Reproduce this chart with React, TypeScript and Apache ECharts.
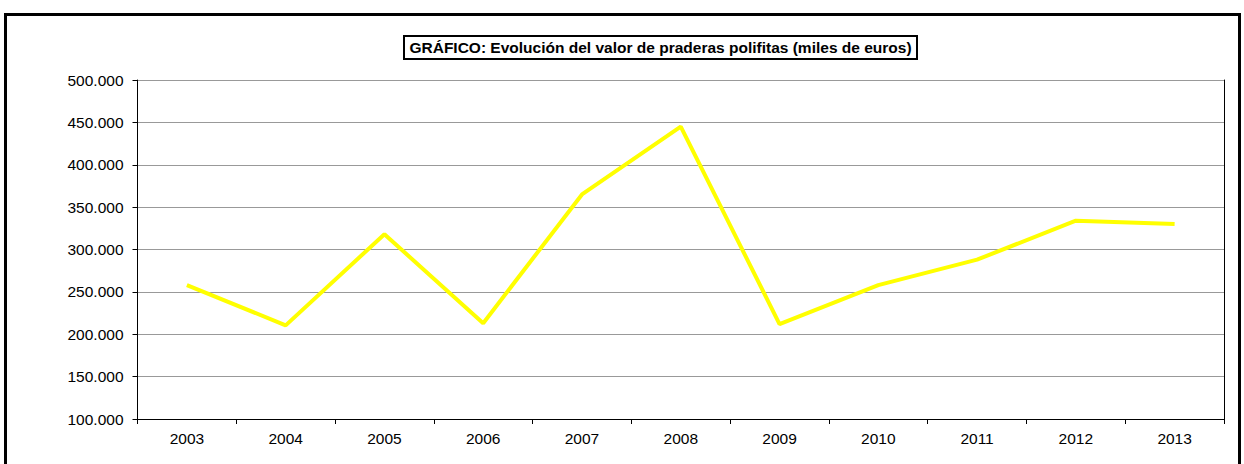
import React, { useEffect, useRef } from "react";
import * as echarts from "echarts";

const years = ["2003", "2004", "2005", "2006", "2007", "2008", "2009", "2010", "2011", "2012", "2013"];
const values = [258000, 210500, 318000, 213000, 365000, 445000, 212000, 258000, 288000, 334000, 330000];
const titleText = "GRÁFICO: Evolución del valor de praderas polifitas (miles de euros)";

const fmt = (v: number) => {
  const s = Math.round(v).toString();
  return s.replace(/\B(?=(\d{3})+(?!\d))/g, ".");
};

export default function App() {
  const ref = useRef<HTMLDivElement>(null);
  useEffect(() => {
    document.body.style.margin = "0";
    const chart = echarts.init(ref.current!, null, { renderer: "svg" });
    const font = "'Liberation Sans', Arial, sans-serif";
    chart.setOption({
      animation: false,
      backgroundColor: "#fff",
      textStyle: { fontFamily: font },
      grid: { left: 137.5, right: 20, top: 80, bottom: 45, containLabel: false },
      xAxis: {
        type: "category",
        data: years,
        boundaryGap: true,
        axisLine: { show: true, lineStyle: { color: "#000", width: 1 } },
        axisTick: { show: true, length: 5, inside: false, alignWithLabel: false, lineStyle: { color: "#000" } },
        axisLabel: { color: "#000", fontSize: 15.5, fontFamily: font, margin: 11 },
        splitLine: { show: false },
      },
      yAxis: [
        {
          type: "value",
          min: 100000,
          max: 500000,
          interval: 50000,
          axisLine: { show: true, lineStyle: { color: "#000", width: 1 } },
          axisTick: { show: true, length: 5, lineStyle: { color: "#000" } },
          axisLabel: { color: "#000", fontSize: 15.5, fontFamily: font, margin: 14, formatter: (v: number) => fmt(v) },
          splitLine: { show: true, lineStyle: { color: "#999", width: 1 } },
        },
        {
          type: "value",
          position: "right",
          min: 100000,
          max: 500000,
          interval: 50000,
          axisLine: { show: true, lineStyle: { color: "#000", width: 1 } },
          axisTick: { show: false },
          axisLabel: { show: false },
          splitLine: { show: false },
        },
      ],
      series: [
        {
          type: "line",
          data: values,
          yAxisIndex: 0,
          showSymbol: false,
          symbol: "none",
          lineStyle: { color: "#FFFF00", width: 4 },
          itemStyle: { color: "#FFFF00" },
        },
      ],
      graphic: [
        {
          type: "rect",
          shape: { x: 5.5, y: 14.5, width: 1234, height: 470 },
          style: { fill: "none", stroke: "#000", lineWidth: 3 },
          silent: true,
        },
        {
          type: "rect",
          shape: { x: 404, y: 36, width: 513, height: 23 },
          style: { fill: "#fff", stroke: "#000", lineWidth: 2 },
          silent: true,
        },
        {
          type: "text",
          x: 660.5,
          y: 47.5,
          style: {
            text: titleText,
            fontFamily: font,
            fontSize: 15.5,
            fontWeight: "bold",
            fill: "#000",
            align: "center",
            verticalAlign: "middle",
          },
          silent: true,
        },
      ],
    });
    return () => chart.dispose();
  }, []);
  return <div ref={ref} style={{ width: 1244, height: 464 }} />;
}
